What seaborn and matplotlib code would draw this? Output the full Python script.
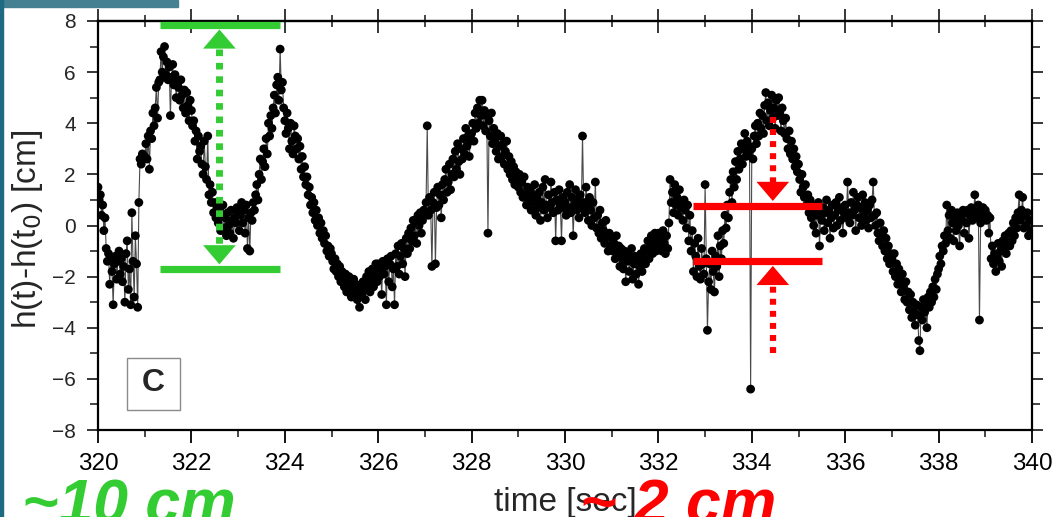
import numpy as np
import pandas as pd
import matplotlib
matplotlib.use("Agg")
import matplotlib.pyplot as plt
from matplotlib.patches import Rectangle
from matplotlib.ticker import MultipleLocator
import seaborn as sns

sns.set_theme(style="white")
plt.rcParams['font.family'] = ['Liberation Sans', 'DejaVu Sans']

# Height record, sampled every 0.025 s, one list per second of the window
t_start = 320.0
dt = 0.025
h_320 = [1.5, 1.0, 1.2, 0.4, 0.8, -0.2, 0.3, -0.9, -1.4, -1.1,
         -2.3, -1.3, -1.8, -3.1, -1.5, -1.2, -2.1, -1.4, -1.0, -1.9,
         -1.3, -2.2, -1.6, -3.0, -1.1, -0.6, -2.5, -1.7, -3.1, 0.5,
         -1.4, -2.8, -0.4, -1.5, -3.2, 0.9, 2.6, 2.4, 2.8, 2.6]
h_321 = [2.7, 3.2, 2.6, 3.5, 2.2, 3.7, 3.4, 4.4, 3.9, 4.6,
         5.4, 4.2, 5.6, 5.7, 6.8, 6.0, 6.6, 7.0, 5.9, 6.4,
         5.7, 6.2, 4.3, 5.8, 6.3, 5.5, 5.9, 5.0, 5.6, 5.4,
         4.9, 5.7, 5.1, 4.6, 5.3, 4.4, 5.2, 4.7, 4.1, 4.9]
h_322 = [4.5, 3.9, 4.1, 3.3, 3.7, 2.6, 3.5, 2.9, 3.1, 2.4,
         2.0, 3.3, 2.3, 1.8, 3.5, 1.2, 1.6, 0.9, 1.3, 0.5,
         0.9, 0.3, 0.7, 0.1, 0.6, -0.2, 0.4, 0.8, -0.1, 0.3,
         -0.4, 0.5, 0.0, -0.3, 0.6, 0.2, -0.5, 0.3, 0.1, 0.7]
h_323 = [0.5, -0.2, 0.4, 0.9, 0.1, 0.6, -0.3, 0.8, -0.9, 0.3,
         -1.0, 0.5, 0.2, 0.9, 0.6, 1.2, 1.6, 1.0, 2.0, 2.6,
         1.8, 2.5, 3.0, 2.3, 3.4, 2.8, 4.0, 3.5, 4.3, 3.8,
         4.6, 5.1, 4.4, 5.5, 5.8, 4.9, 6.9, 5.3, 5.6, 4.6]
h_324 = [4.1, 3.6, 4.4, 3.8, 3.0, 4.0, 3.3, 2.8, 3.9, 3.5,
         3.0, 3.4, 2.6, 3.1, 2.2, 2.7, 1.9, 2.3, 1.6, 1.9,
         1.2, 1.5, 0.8, 1.1, 0.5, 0.9, 0.2, 0.6, 0.0, 0.3,
         -0.3, 0.1, -0.5, -0.2, -0.7, -0.4, -1.0, -0.8, -1.2, -0.9]
h_325 = [-1.1, -1.4, -1.7, -1.3, -1.8, -1.5, -2.0, -1.6, -2.2, -1.8,
         -2.1, -2.4, -1.9, -2.6, -2.2, -2.0, -2.5, -2.8, -2.3, -2.1,
         -2.6, -2.3, -2.9, -2.5, -3.2, -2.4, -2.7, -2.2, -2.5, -2.9,
         -2.0, -2.3, -1.8, -2.6, -2.1, -1.7, -2.4, -1.9, -1.5, -2.2]
h_326 = [-1.5, -2.0, -1.7, -2.7, -1.4, -1.9, -1.6, -3.1, -1.3, -2.2,
         -1.5, -1.2, -2.4, -1.7, -3.1, -1.1, -1.6, -0.8, -1.9, -1.2,
         -0.7, -1.5, -0.9, -2.0, -0.5, -1.1, -0.3, -0.9, -0.1, -0.6,
         0.2, -0.4, 0.1, -0.7, 0.4, 0.0, 0.5, -0.3, 0.2, 0.6]
h_327 = [0.5, 0.9, 3.9, 0.4, 1.1, 0.6, -1.6, 0.9, 1.3, -1.5,
         0.7, 1.5, 0.8, 1.2, 0.3, 1.6, 1.0, 1.8, 2.2, 1.3,
         1.7, 2.4, 1.4, 2.0, 2.6, 1.9, 2.9, 2.2, 3.2, 2.5,
         2.0, 3.0, 2.6, 3.4, 2.8, 3.8, 3.1, 3.5, 2.7, 3.3]
h_328 = [3.6, 4.0, 3.3, 4.4, 3.8, 4.6, 4.0, 4.9, 4.3, 4.9,
         3.9, 4.5, 3.7, 4.3, -0.3, 4.1, 3.5, 4.4, 3.2, 3.8,
         3.3, 2.9, 3.6, 2.6, 3.1, 3.5, 2.7, 3.2, 2.4, 2.9,
         3.3, 2.2, 2.7, 2.0, 2.5, 1.8, 2.3, 1.6, 2.1, 1.9]
h_329 = [1.5, 2.0, 1.3, 1.7, 1.1, 1.9, 1.2, 0.8, 1.5, 1.0,
         1.4, 0.6, 1.2, 0.9, 1.6, 0.4, 1.1, 0.7, 1.3, 0.2,
         0.9, 1.5, 0.6, 1.8, 0.8, 0.3, 1.2, 0.7, 1.7, 0.9,
         0.5, 1.3, -0.6, 1.0, 0.6, 1.4, 0.8, -0.6, 1.1, 0.7]
h_330 = [0.9, 0.4, 1.3, 0.7, 1.6, 0.5, 1.1, -0.4, 0.8, 1.4,
         0.6, 1.0, 0.3, 1.2, 0.7, 3.5, 0.9, 0.5, 1.5, 0.8,
         0.2, 1.1, 0.6, 0.0, 0.9, 0.3, 1.7, -0.1, 0.4, -0.3,
         0.6, -0.5, 0.1, -0.2, -0.7, 0.2, -0.4, -1.0, -0.3, -0.8]
h_331 = [-0.5, -1.0, -0.7, -1.3, -0.4, -1.1, -0.8, -1.6, -0.9, -1.3,
         -1.7, -1.0, -2.2, -1.4, -1.1, -1.8, -1.3, -0.9, -2.1, -1.5,
         -1.2, -1.9, -1.4, -2.3, -1.6, -1.1, -1.8, -1.3, -0.9, -1.5,
         -1.0, -0.6, -1.3, -0.8, -0.4, -1.1, -0.7, -0.3, -1.0, -0.5]
h_332 = [-0.3, -0.8, -0.5, -1.0, -0.2, -0.7, -1.1, -0.4, -0.9, 0.1,
         1.8, 0.9, 1.3, 0.5, 1.6, 0.8, 1.1, 0.4, 1.4, 0.7,
         0.9, 0.2, 1.0, 0.6, -0.1, 0.8, -0.6, 0.4, -1.0, -0.2,
         -1.8, -0.7, -1.2, -2.0, -0.5, -1.6, -2.1, -0.9, -1.5, -1.9]
h_333 = [1.6, -1.3, -4.1, -2.2, -1.5, -2.5, -1.0, -1.8, -2.6, -1.2,
         -1.6, -0.4, -2.0, -0.8, -1.3, -0.2, -0.7, 0.4, -0.1, 0.8,
         0.3, 1.3, 1.8, 0.9, 2.1, 1.5, 2.5, 1.8, 2.9, 2.2,
         2.6, 3.2, 2.4, 3.0, 3.6, 2.7, 3.3, 2.8, 3.1, -6.4]
h_334 = [3.0, 2.6, 3.5, 3.9, 3.2, 4.0, 3.5, 4.4, 3.8, 4.3,
         3.6, 4.7, 5.2, 4.1, 4.8, 3.9, 4.5, 5.1, 4.2, 4.6,
         3.8, 4.9, 4.3, 5.0, 4.4, 3.7, 4.6, 4.1, 3.6, 4.2,
         3.4, 3.0, 3.7, 2.8, 3.3, 2.6, 3.0, 2.3, 2.7, 2.1]
h_335 = [2.4, 1.8, 1.3, 2.0, 1.5, 1.1, 1.6, 0.8, 1.2, 0.5,
         1.0, 0.3, 0.8, 0.0, 0.6, -0.3, 0.4, 0.9, -0.8, 0.5,
         0.2, 0.7, -0.2, 0.5, 1.0, 0.1, 0.6, -0.5, 0.3, 0.8,
         -0.1, 0.4, 0.9, 0.0, 0.6, 1.1, 0.2, 0.7, -0.3, 0.5]
h_336 = [0.8, 0.3, 1.7, 0.5, 0.1, 0.9, 0.4, 1.3, 0.6, -0.2,
         0.8, 1.1, 0.3, 0.7, 0.0, 1.2, 0.5, 0.9, 0.2, 0.6,
         -0.1, 0.8, 0.3, 1.0, 1.7, 0.4, 0.0, 0.5, -0.3, -0.6,
         0.1, -0.4, -0.8, -0.2, -1.0, -0.5, -1.3, -0.8, -1.5, -1.1]
h_337 = [-1.3, -1.8, -1.1, -2.0, -1.5, -2.3, -1.7, -2.1, -2.6, -1.9,
         -2.4, -2.9, -2.2, -3.0, -2.6, -3.3, -2.7, -3.6, -3.0, -3.4,
         -3.9, -3.1, -3.5, -4.5, -4.9, -3.2, -3.7, -2.9, -3.4, -3.0,
         -4.0, -2.8, -3.2, -2.6, -3.0, -2.4, -2.8, -2.1, -2.5, -1.9]
h_338 = [-1.7, -1.2, -1.5, -0.8, -1.0, -0.4, -0.7, 0.8, -0.2, 0.4,
         -0.5, 0.6, 0.1, -0.6, 0.3, -0.2, 0.5, 0.0, -0.8, 0.4,
         0.2, 0.6, -0.3, 0.5, 0.1, 0.6, -0.5, 0.4, 0.7, 0.2,
         0.5, 1.2, 0.6, 0.3, 0.8, -3.7, 0.1, 0.5, 0.7, 0.3]
h_339 = [0.6, 0.2, 0.4, -0.3, 0.3, -1.3, -0.8, -1.5, -1.1, -1.8,
         -1.2, -0.7, -1.4, -1.0, -1.6, -0.6, -0.9, -0.4, -1.1, -0.7,
         -0.3, -0.8, -0.2, -0.6, 0.1, -0.4, 0.3, -0.1, 0.5, 1.2,
         0.2, 0.6, 1.1, -0.1, 0.4, 0.0, 0.5, -0.4, 0.2, -0.2]

height = np.concatenate([h_320, h_321, h_322, h_323, h_324, h_325, h_326,
                         h_327, h_328, h_329, h_330, h_331, h_332, h_333,
                         h_334, h_335, h_336, h_337, h_338, h_339])
time = t_start + dt * np.arange(len(height))
df = pd.DataFrame({"time": time, "height": height})

x_ticks = [320, 322, 324, 326, 328, 330, 332, 334, 336, 338, 340]
y_ticks = [-8, -6, -4, -2, 0, 2, 4, 6, 8]

# Amplitude markers
green_levels = (7.85, -1.7)
green_span = (321.33, 323.9)
green_x = 322.6
red_levels = (0.78, -1.4)
red_span = (332.75, 335.5)
red_x = 334.45

GREEN = "#33cc33"
RED = "#ff0000"

fig = plt.figure(figsize=(10.52, 5.17), dpi=100)
ax = fig.add_axes([98 / 1052, 1 - 430 / 517, 934 / 1052, 409 / 517])

sns.lineplot(data=df, x="time", y="height", color="#4a4a4a", lw=0.8,
             sort=False, ax=ax, zorder=2)
sns.scatterplot(data=df, x="time", y="height", color="black", s=40,
                edgecolor="none", ax=ax, zorder=3)

ax.set_xlim(320, 340)
ax.set_ylim(-8, 8)
ax.set_xticks(x_ticks)
ax.set_yticks(y_ticks)
ax.xaxis.set_minor_locator(MultipleLocator(1))
ax.yaxis.set_minor_locator(MultipleLocator(1))
for s in ax.spines.values():
    s.set_visible(True)
    s.set_color("black")
    s.set_linewidth(1.6)

ax.tick_params(axis="x", which="major", direction="out", length=9.5,
               width=1.3, labelsize=17.5, pad=7, colors="black", bottom=True)
ax.tick_params(axis="x", which="minor", direction="out", length=5,
               width=1.2, bottom=True)
ax.tick_params(axis="y", which="major", direction="out", length=8,
               width=1.3, labelsize=15, pad=8, left=True, right=True)
ax.tick_params(axis="y", which="minor", direction="out", length=6,
               width=1.2, left=True, right=True)

top = ax.secondary_xaxis("top")
top.set_xticks(x_ticks)
top.xaxis.set_minor_locator(MultipleLocator(1))
top.tick_params(axis="x", which="major", direction="inout", length=17,
                width=1.3, labeltop=False)
top.tick_params(axis="x", which="minor", direction="inout", length=8,
                width=1.2)
top.spines["top"].set_linewidth(1.6)

ax.set_xlabel("time [sec]", fontsize=24)
ax.xaxis.label.set_va("baseline")
ax.xaxis.set_label_coords(0.5, -0.198)
ax.set_ylabel(r"h(t)-h(t$_0$) [cm]", fontsize=24)
ax.yaxis.label.set_va("center")
ax.yaxis.set_label_coords(-0.075, 0.491)

DOTS = (0, (0.95, 0.98))
HEAD_H = 0.75
HEAD_HW = 0.35
GAP = 0.18


def head(x, base, apex, color):
    ax.fill([x - HEAD_HW, x + HEAD_HW, x], [base, base, apex], color=color,
            lw=0, zorder=5)


for lvl in green_levels:
    ax.hlines(lvl, *green_span, color=GREEN, lw=5.2, zorder=4)
for lvl in red_levels:
    ax.hlines(lvl, *red_span, color=RED, lw=5.2, zorder=4)

# double-headed dotted arrow spanning the large swing
g_hi, g_lo = green_levels
ax.plot([green_x, green_x], [g_hi - GAP - HEAD_H, g_lo + GAP + HEAD_H],
        color=GREEN, lw=5, linestyle=DOTS, zorder=5)
head(green_x, g_hi - GAP - HEAD_H, g_hi - GAP, GREEN)
head(green_x, g_lo + GAP + HEAD_H, g_lo + GAP, GREEN)

# two inward dotted arrows squeezing the small swing
r_hi, r_lo = red_levels
ax.plot([red_x, red_x], [4.25, r_hi + GAP + HEAD_H], color=RED, lw=4.5,
        linestyle=DOTS, zorder=5)
head(red_x, r_hi + GAP + HEAD_H, r_hi + GAP, RED)
ax.plot([red_x, red_x], [-5.0, r_lo - GAP - HEAD_H], color=RED, lw=4.5,
        linestyle=DOTS, zorder=5)
head(red_x, r_lo - GAP - HEAD_H, r_lo - GAP, RED)

# panel tag
ax.add_patch(Rectangle((0.031, 0.049), 0.057, 0.127, transform=ax.transAxes,
                       facecolor="white", edgecolor="#8a8a8a", lw=1.0,
                       zorder=6))
ax.text(0.0595, 0.114, "C", transform=ax.transAxes, fontsize=23,
        fontweight="bold", ha="center", va="center", zorder=7)

# slide frame pieces
fig.patches.append(Rectangle((0, 1 - 7 / 517), 178 / 1052, 7 / 517,
                             transform=fig.transFigure, color="#457f92",
                             zorder=10))
fig.patches.append(Rectangle((0, 0), 3 / 1052, 1, transform=fig.transFigure,
                             color="#1d6a82", zorder=10))

fig.text(22 / 1052, -7 / 517, "~10 cm", color=GREEN, fontsize=45,
         fontweight="bold", fontstyle="italic", ha="left", va="baseline")
fig.text(580 / 1052, -7 / 517, "~ 2 cm", color=RED, fontsize=45,
         fontweight="bold", fontstyle="italic", ha="left", va="baseline")

fig.savefig("out.png", dpi=100)
